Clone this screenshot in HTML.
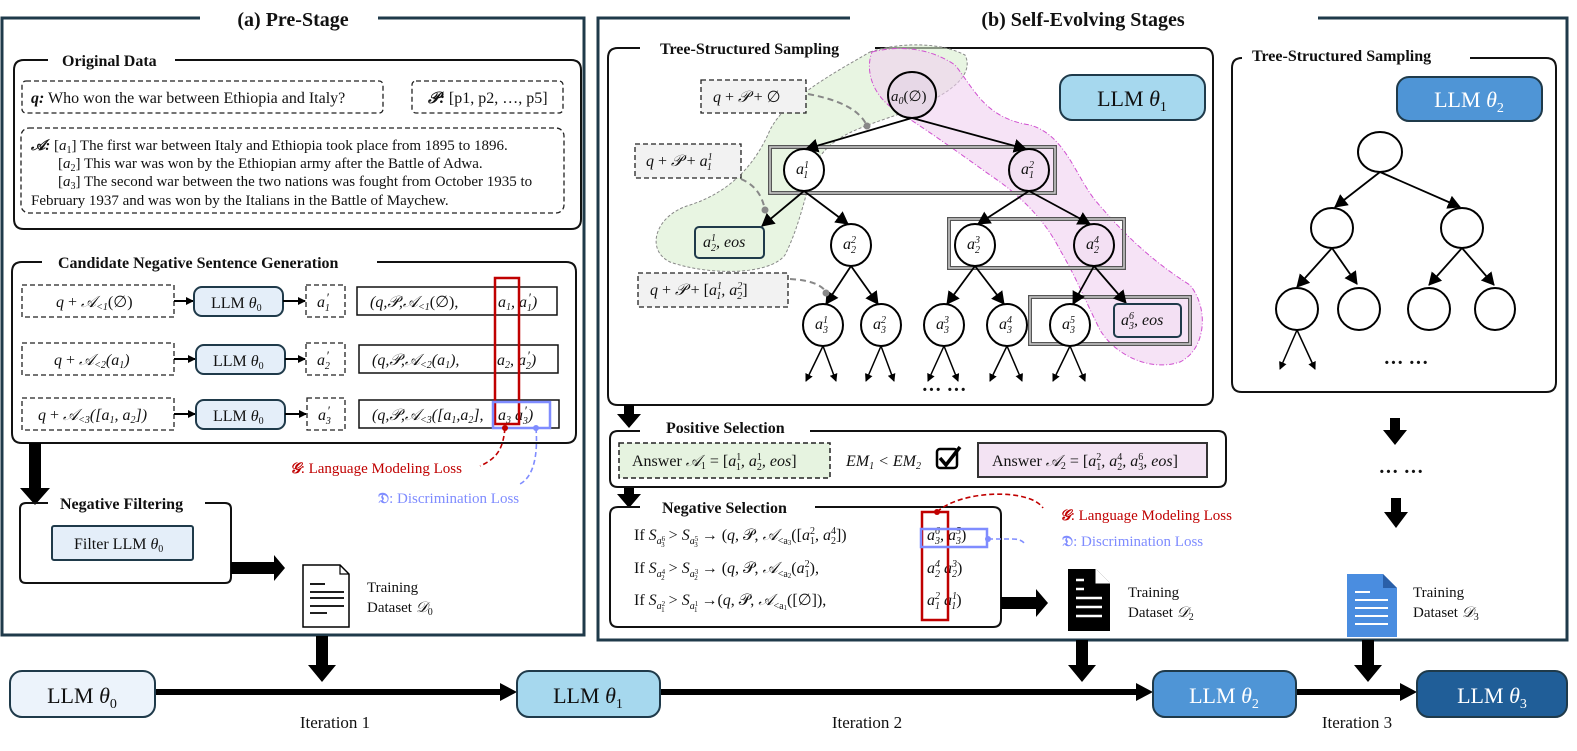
<!DOCTYPE html>
<html><head><meta charset="utf-8">
<style>
html,body{margin:0;padding:0;background:#fff;}
svg{display:block;}
text{font-family:"Liberation Serif",serif;fill:#111;}
.b{font-weight:bold;}
.i{font-style:italic;}
.s{font-size:10px;}
</style></head>
<body>
<svg width="1577" height="751" viewBox="0 0 1577 751" xmlns="http://www.w3.org/2000/svg">
<defs>
<marker id="ar" markerWidth="8" markerHeight="8" refX="7" refY="4" orient="auto" markerUnits="userSpaceOnUse">
<path d="M0,0 L8,4 L0,8 Z" fill="#000"/></marker>
<marker id="arl" markerWidth="14" markerHeight="14" refX="12" refY="7" orient="auto" markerUnits="userSpaceOnUse">
<path d="M0,0 L13,7 L0,14 Z" fill="#000"/></marker>
</defs>

<!-- (a) frame -->
<path d="M200,18 L2,18 L2,635 L584,635 L584,18 L378,18" fill="none" stroke="#1f3a4a" stroke-width="3"/>
<text x="293" y="26" font-size="20" class="b" text-anchor="middle">(a) Pre-Stage</text>

<!-- (b) frame -->
<path d="M850,18 L598,18 L598,640 L1567,640 L1567,18 L1318,18" fill="none" stroke="#1f3a4a" stroke-width="3"/>
<text x="1083" y="26" font-size="20" class="b" text-anchor="middle">(b) Self-Evolving Stages</text>

<!-- Original Data -->
<path d="M48,60 L24,60 Q14,60 14,70 L14,219 Q14,229 24,229 L571,229 Q581,229 581,219 L581,70 Q581,60 571,60 L175,60" fill="none" stroke="#111" stroke-width="2"/>
<text x="62" y="66" font-size="16" class="b">Original Data</text>
<rect x="22" y="81" width="361" height="32" rx="4" fill="none" stroke="#222" stroke-width="1.3" stroke-dasharray="5,3"/>
<text x="31" y="103" font-size="16"><tspan class="b i">q:</tspan> Who won the war between Ethiopia and Italy?</text>
<rect x="412" y="81" width="151" height="32" rx="4" fill="none" stroke="#222" stroke-width="1.3" stroke-dasharray="5,3"/>
<text x="428" y="103" font-size="16"><tspan class="b i">𝒫:</tspan> [p1, p2, …, p5]</text>
<rect x="21" y="128" width="543" height="85" rx="8" fill="none" stroke="#222" stroke-width="1.3" stroke-dasharray="5,3"/>
<text font-size="15">
<tspan x="31" y="150"><tspan class="b i">𝒜:</tspan> [<tspan class="i">a</tspan><tspan class="s" dy="3">1</tspan><tspan dy="-3">] The first war between Italy and Ethiopia took place from 1895 to 1896.</tspan></tspan>
<tspan x="58" y="168">[<tspan class="i">a</tspan><tspan class="s" dy="3">2</tspan><tspan dy="-3">] This war was won by the Ethiopian army after the Battle of Adwa.</tspan></tspan>
<tspan x="58" y="186">[<tspan class="i">a</tspan><tspan class="s" dy="3">3</tspan><tspan dy="-3">] The second war between the two nations was fought from October 1935 to</tspan></tspan>
<tspan x="31" y="205">February 1937 and was won by the Italians in the Battle of Maychew.</tspan>
</text>

<!-- Candidate Negative Sentence Generation -->
<path d="M42,262 L22,262 Q12,262 12,272 L12,433 Q12,443 22,443 L566,443 Q576,443 576,433 L576,272 Q576,262 566,262 L377,262" fill="none" stroke="#111" stroke-width="2"/>
<text x="58" y="268" font-size="16" class="b">Candidate Negative Sentence Generation</text>

<g font-size="16">
<rect x="22" y="285" width="152" height="32" fill="none" stroke="#222" stroke-width="1.3" stroke-dasharray="5,3"/>
<text x="56" y="307" class="i">q <tspan font-style="normal">+</tspan> 𝒜<tspan class="s" dy="3">&lt;1</tspan><tspan dy="-3" font-style="normal">(∅)</tspan></text>
<line x1="174" y1="301" x2="193" y2="301" stroke="#000" stroke-width="2" marker-end="url(#ar)"/>
<rect x="194" y="287" width="89" height="29" rx="8" fill="#e4eef9" stroke="#1f3a4a" stroke-width="2"/>
<text x="211" y="308">LLM <tspan class="i">θ</tspan><tspan class="s" dy="3">0</tspan></text>
<line x1="283" y1="301" x2="305" y2="301" stroke="#000" stroke-width="2" marker-end="url(#ar)"/>
<rect x="306" y="285" width="39" height="32" fill="none" stroke="#222" stroke-width="1.3" stroke-dasharray="5,3"/>
<text x="317" y="307" class="i">a<tspan font-size="13" dx="1" dy="-5">′</tspan><tspan class="s" dx="-4" dy="9">1</tspan></text>
<rect x="357" y="287" width="200" height="28" fill="none" stroke="#111" stroke-width="1.5"/>
<text x="370" y="307" class="i">(q,𝒫,𝒜<tspan class="s" dy="3">&lt;1</tspan><tspan dy="-3" font-style="normal">(∅),</tspan></text>
<text x="498" y="307" class="i">a<tspan class="s" dy="3">1</tspan><tspan dy="-3">, a</tspan><tspan font-size="13" dx="1" dy="-5">′</tspan><tspan class="s" dx="-4" dy="9">1</tspan><tspan dy="-4">)</tspan></text>

<rect x="22" y="343" width="152" height="32" fill="none" stroke="#222" stroke-width="1.3" stroke-dasharray="5,3"/>
<text x="54" y="365" class="i">q <tspan font-style="normal">+</tspan> 𝒜<tspan class="s" dy="3">&lt;2</tspan><tspan dy="-3">(a</tspan><tspan class="s" dy="3">1</tspan><tspan dy="-3">)</tspan></text>
<line x1="174" y1="359" x2="195" y2="359" stroke="#000" stroke-width="2" marker-end="url(#ar)"/>
<rect x="196" y="345" width="89" height="29" rx="8" fill="#e4eef9" stroke="#1f3a4a" stroke-width="2"/>
<text x="213" y="366">LLM <tspan class="i">θ</tspan><tspan class="s" dy="3">0</tspan></text>
<line x1="285" y1="359" x2="305" y2="359" stroke="#000" stroke-width="2" marker-end="url(#ar)"/>
<rect x="306" y="343" width="39" height="32" fill="none" stroke="#222" stroke-width="1.3" stroke-dasharray="5,3"/>
<text x="317" y="365" class="i">a<tspan font-size="13" dx="1" dy="-5">′</tspan><tspan class="s" dx="-4" dy="9">2</tspan></text>
<rect x="359" y="345" width="199" height="28" fill="none" stroke="#111" stroke-width="1.5"/>
<text x="372" y="365" class="i">(q,𝒫,𝒜<tspan class="s" dy="3">&lt;2</tspan><tspan dy="-3">(a</tspan><tspan class="s" dy="3">1</tspan><tspan dy="-3">),</tspan></text>
<text x="497" y="365" class="i">a<tspan class="s" dy="3">2</tspan><tspan dy="-3">, a</tspan><tspan font-size="13" dx="1" dy="-5">′</tspan><tspan class="s" dx="-4" dy="9">2</tspan><tspan dy="-4">)</tspan></text>

<rect x="22" y="398" width="152" height="32" fill="none" stroke="#222" stroke-width="1.3" stroke-dasharray="5,3"/>
<text x="38" y="420" class="i">q <tspan font-style="normal">+</tspan> 𝒜<tspan class="s" dy="3">&lt;3</tspan><tspan dy="-3">([a</tspan><tspan class="s" dy="3">1</tspan><tspan dy="-3">, a</tspan><tspan class="s" dy="3">2</tspan><tspan dy="-3">])</tspan></text>
<line x1="174" y1="414" x2="195" y2="414" stroke="#000" stroke-width="2" marker-end="url(#ar)"/>
<rect x="196" y="400" width="89" height="29" rx="8" fill="#e4eef9" stroke="#1f3a4a" stroke-width="2"/>
<text x="213" y="421">LLM <tspan class="i">θ</tspan><tspan class="s" dy="3">0</tspan></text>
<line x1="285" y1="414" x2="306" y2="414" stroke="#000" stroke-width="2" marker-end="url(#ar)"/>
<rect x="307" y="398" width="38" height="32" fill="none" stroke="#222" stroke-width="1.3" stroke-dasharray="5,3"/>
<text x="318" y="420" class="i">a<tspan font-size="13" dx="1" dy="-5">′</tspan><tspan class="s" dx="-4" dy="9">3</tspan></text>
<rect x="359" y="400" width="200" height="28" fill="none" stroke="#111" stroke-width="1.5"/>
<text x="372" y="420" class="i">(q,𝒫,𝒜<tspan class="s" dy="3">&lt;3</tspan><tspan dy="-3">([a</tspan><tspan class="s" dy="3">1</tspan><tspan dy="-3">,a</tspan><tspan class="s" dy="3">2</tspan><tspan dy="-3">],</tspan></text>
<text x="498" y="420" class="i">a<tspan class="s" dy="3">3</tspan><tspan dy="-3">  a</tspan><tspan font-size="13" dx="1" dy="-5">′</tspan><tspan class="s" dx="-4" dy="9">3</tspan><tspan dy="-4">)</tspan></text>
</g>
<rect x="495" y="278" width="24" height="146" fill="none" stroke="#c00000" stroke-width="2.5"/>
<rect x="493" y="402" width="57" height="26" fill="none" stroke="#7f8cff" stroke-width="2.5"/>
<circle cx="505" cy="428" r="3" fill="#c00000"/>
<circle cx="536" cy="428" r="3" fill="#7f8cff"/>
<path d="M505,428 C503,448 498,458 480,466" fill="none" stroke="#c00000" stroke-width="1.6" stroke-dasharray="5,3"/>
<path d="M536,428 C538,455 534,478 518,485" fill="none" stroke="#7f8cff" stroke-width="1.6" stroke-dasharray="5,3"/>
<text x="290" y="473" font-size="15" style="fill:#c00000"><tspan class="b i" style="fill:#c00000">𝒢</tspan>: Language Modeling Loss</text>
<text x="378" y="503" font-size="15" style="fill:#7f8cff"><tspan class="b" style="fill:#7f8cff">𝔇</tspan>: Discrimination Loss</text>

<polygon points="29,443 41,443 41,488 50,488 35,505 20,488 29,488" fill="#000"/>

<!-- Negative filtering -->
<path d="M48,503 L26,503 Q20,503 20,509 L20,577 Q20,583 26,583 L225,583 Q231,583 231,577 L231,509 Q231,503 225,503 L205,503" fill="none" stroke="#111" stroke-width="2"/>
<text x="60" y="509" font-size="16" class="b">Negative Filtering</text>
<rect x="52" y="526" width="141" height="34" rx="2" fill="#e4eef9" stroke="#1f3a4a" stroke-width="2"/>
<text x="74" y="549" font-size="16">Filter LLM <tspan class="i">θ</tspan><tspan class="s" dy="3">0</tspan></text>
<polygon points="231,562 274,562 274,555 285,568 274,581 274,574 231,574" fill="#000"/>
<path d="M303,565 L340,565 L349,574 L349,627 L303,627 Z" fill="#fff" stroke="#000" stroke-width="1.5"/>
<path d="M340,565 L340,574 L349,574" fill="none" stroke="#000" stroke-width="1.2"/>
<g stroke="#000" stroke-width="1.8"><line x1="310" y1="584" x2="325" y2="584"/><line x1="310" y1="592" x2="344" y2="592"/><line x1="310" y1="598" x2="344" y2="598"/><line x1="310" y1="606" x2="344" y2="606"/><line x1="310" y1="613" x2="327" y2="613"/></g>
<text x="367" y="592" font-size="15">Training</text>
<text x="367" y="612" font-size="15">Dataset <tspan class="i">𝒟</tspan><tspan class="s" dy="3">0</tspan></text>
<polygon points="316,636 328,636 328,665 336,665 322,682 308,665 316,665" fill="#000"/>

<!-- Tree-structured sampling 1 -->
<path d="M640,48 L618,48 Q608,48 608,58 L608,395 Q608,405 618,405 L1203,405 Q1213,405 1213,395 L1213,58 Q1213,48 1203,48 L875,48" fill="none" stroke="#111" stroke-width="2"/>
<text x="660" y="54" font-size="16" class="b">Tree-Structured Sampling</text>

<path d="M870,52 C900,42 940,42 965,55 C975,75 950,95 905,112 C860,128 830,135 815,165 C805,195 800,225 785,255 C770,275 710,276 670,262 C645,250 655,215 690,205 C730,192 755,165 770,130 C785,100 830,75 870,52 Z" fill="#d9efcf" fill-opacity="0.6" stroke="#888" stroke-width="1" stroke-dasharray="3,2"/>
<path d="M872,52 C900,45 930,48 955,65 C975,90 985,118 1030,125 C1065,135 1075,175 1095,200 C1120,230 1150,260 1190,285 C1210,310 1205,350 1180,362 C1150,372 1115,355 1100,330 C1085,300 1075,275 1060,250 C1045,220 1020,195 990,175 C955,150 920,125 895,110 C872,95 865,70 872,52 Z" fill="#f0d0f0" fill-opacity="0.6" stroke="#d050d0" stroke-width="1" stroke-dasharray="5,2,1,2"/>

<g fill="none" stroke="#555" stroke-width="4">
<rect x="770" y="147" width="285" height="46"/>
<rect x="949" y="219" width="175" height="49"/>
<rect x="1030" y="297" width="160" height="47"/>
</g>
<g fill="none" stroke="#ccc" stroke-width="1.5">
<rect x="770" y="147" width="285" height="46"/>
<rect x="949" y="219" width="175" height="49"/>
<rect x="1030" y="297" width="160" height="47"/>
</g>

<rect x="1060" y="75" width="145" height="45" rx="12" fill="#a6d8ee" stroke="#1f3a4a" stroke-width="2"/>
<text x="1132" y="106" font-size="22" text-anchor="middle">LLM <tspan class="i">θ</tspan><tspan font-size="14" dy="5">1</tspan></text>

<g stroke="#000" stroke-width="1.8" marker-end="url(#arl)">
<line x1="912" y1="118" x2="806" y2="149"/>
<line x1="912" y1="118" x2="1026" y2="149"/>
<line x1="804" y1="191" x2="762" y2="226"/>
<line x1="804" y1="191" x2="848" y2="224"/>
<line x1="1029" y1="191" x2="978" y2="224"/>
<line x1="1029" y1="191" x2="1090" y2="224"/>
<line x1="851" y1="266" x2="826" y2="304"/>
<line x1="851" y1="266" x2="878" y2="304"/>
<line x1="975" y1="266" x2="947" y2="304"/>
<line x1="975" y1="266" x2="1004" y2="304"/>
<line x1="1094" y1="266" x2="1073" y2="304"/>
<line x1="1094" y1="266" x2="1126" y2="303"/>
</g>
<g stroke="#000" stroke-width="1.5" marker-end="url(#ar)">
<line x1="823" y1="346" x2="806" y2="381"/><line x1="823" y1="346" x2="836" y2="381"/>
<line x1="881" y1="346" x2="866" y2="381"/><line x1="881" y1="346" x2="894" y2="381"/>
<line x1="944" y1="346" x2="928" y2="381"/><line x1="944" y1="346" x2="958" y2="381"/>
<line x1="1007" y1="346" x2="990" y2="381"/><line x1="1007" y1="346" x2="1022" y2="381"/>
<line x1="1070" y1="346" x2="1053" y2="381"/><line x1="1070" y1="346" x2="1085" y2="381"/>
</g>
<text x="944" y="396" font-size="20" text-anchor="middle" class="b">··· ···</text>

<g fill="#fff" stroke="#000" stroke-width="2">
<ellipse cx="912" cy="95" rx="24" ry="23" fill="#e7d8e7"/>
<ellipse cx="804" cy="170" rx="20" ry="21"/>
<ellipse cx="1029" cy="170" rx="20" ry="21" fill="#f3e0f3"/>
<ellipse cx="851" cy="245" rx="20" ry="21"/>
<ellipse cx="975" cy="245" rx="20" ry="21"/>
<ellipse cx="1094" cy="245" rx="20" ry="21" fill="#f3e0f3"/>
<ellipse cx="823" cy="325" rx="20" ry="21"/>
<ellipse cx="881" cy="325" rx="20" ry="21"/>
<ellipse cx="944" cy="325" rx="20" ry="21"/>
<ellipse cx="1007" cy="325" rx="20" ry="21"/>
<ellipse cx="1070" cy="325" rx="20" ry="21"/>
</g>
<rect x="695" y="227" width="69" height="31" rx="4" fill="#e6f3e0" stroke="#1f3a4a" stroke-width="2"/>
<rect x="1114" y="304" width="67" height="33" rx="4" fill="#f3e0f3" stroke="#1f3a4a" stroke-width="2"/>
<g font-size="16" class="i">
<text x="891" y="101" font-size="15">a<tspan class="s" dy="3">0</tspan><tspan dy="-3" font-style="normal">(∅)</tspan></text>
<text x="796" y="174">a<tspan class="s" dy="-6">1</tspan><tspan class="s" dx="-5" dy="10">1</tspan></text>
<text x="1021" y="174">a<tspan class="s" dy="-6">2</tspan><tspan class="s" dx="-5" dy="10">1</tspan></text>
<text x="843" y="249">a<tspan class="s" dy="-6">2</tspan><tspan class="s" dx="-5" dy="10">2</tspan></text>
<text x="967" y="249">a<tspan class="s" dy="-6">3</tspan><tspan class="s" dx="-5" dy="10">2</tspan></text>
<text x="1086" y="249">a<tspan class="s" dy="-6">4</tspan><tspan class="s" dx="-5" dy="10">2</tspan></text>
<text x="815" y="329">a<tspan class="s" dy="-6">1</tspan><tspan class="s" dx="-5" dy="10">3</tspan></text>
<text x="873" y="329">a<tspan class="s" dy="-6">2</tspan><tspan class="s" dx="-5" dy="10">3</tspan></text>
<text x="936" y="329">a<tspan class="s" dy="-6">3</tspan><tspan class="s" dx="-5" dy="10">3</tspan></text>
<text x="999" y="329">a<tspan class="s" dy="-6">4</tspan><tspan class="s" dx="-5" dy="10">3</tspan></text>
<text x="1062" y="329">a<tspan class="s" dy="-6">5</tspan><tspan class="s" dx="-5" dy="10">3</tspan></text>
<text x="703" y="247">a<tspan class="s" dy="-6">1</tspan><tspan class="s" dx="-5" dy="10">2</tspan><tspan dy="-4">, eos</tspan></text>
<text x="1121" y="325">a<tspan class="s" dy="-6">6</tspan><tspan class="s" dx="-5" dy="10">3</tspan><tspan dy="-4">, eos</tspan></text>
</g>

<rect x="701" y="80" width="105" height="33" fill="#f2f2f2" stroke="#222" stroke-width="1.3" stroke-dasharray="5,3"/>
<text x="713" y="102" font-size="16" class="i">q <tspan font-style="normal">+</tspan> 𝒫 <tspan font-style="normal">+ ∅</tspan></text>
<rect x="635" y="144" width="106" height="34" fill="#f2f2f2" stroke="#222" stroke-width="1.3" stroke-dasharray="5,3"/>
<text x="646" y="166" font-size="16" class="i">q <tspan font-style="normal">+</tspan> 𝒫 <tspan font-style="normal">+</tspan> a<tspan class="s" dy="-6">1</tspan><tspan class="s" dx="-5" dy="10">1</tspan></text>
<rect x="638" y="273" width="150" height="34" fill="#f2f2f2" stroke="#222" stroke-width="1.3" stroke-dasharray="5,3"/>
<text x="650" y="295" font-size="16" class="i">q <tspan font-style="normal">+</tspan> 𝒫 <tspan font-style="normal">+ [</tspan>a<tspan class="s" dy="-6">1</tspan><tspan class="s" dx="-5" dy="10">1</tspan><tspan dy="-4">, a</tspan><tspan class="s" dy="-6">2</tspan><tspan class="s" dx="-5" dy="10">2</tspan><tspan dy="-4" font-style="normal">]</tspan></text>
<g fill="none" stroke="#888" stroke-width="2" stroke-dasharray="6,4">
<path d="M808,94 C840,100 860,110 867,126"/>
<path d="M741,179 C755,185 762,195 765,210"/>
<path d="M790,279 C810,280 822,285 826,292"/>
</g>
<circle cx="867" cy="126" r="3.5" fill="#888"/><circle cx="765" cy="210" r="3.5" fill="#888"/><circle cx="826" cy="293" r="3.5" fill="#888"/>

<polygon points="624,405 634,405 634,414 641,414 629,428 617,414 624,414" fill="#000"/>
<polygon points="624,487 634,487 634,494 641,494 629,508 617,494 624,494" fill="#000"/>

<!-- Positive selection -->
<path d="M640,431 L618,431 Q610,431 610,439 L610,479 Q610,487 618,487 L1218,487 Q1226,487 1226,479 L1226,439 Q1226,431 1218,431 L810,431" fill="none" stroke="#111" stroke-width="2"/>
<text x="666" y="433" font-size="16" class="b">Positive Selection</text>
<rect x="619" y="443" width="211" height="35" fill="#e6f3e0" stroke="#222" stroke-width="1.5" stroke-dasharray="5,3"/>
<text x="632" y="466" font-size="16">Answer <tspan class="i">𝒜</tspan><tspan class="s" dy="3">1</tspan><tspan dy="-3"> = [</tspan><tspan class="i">a</tspan><tspan class="s" dy="-6">1</tspan><tspan class="s" dx="-5" dy="10">1</tspan><tspan dy="-4" class="i">, a</tspan><tspan class="s" dy="-6">1</tspan><tspan class="s" dx="-5" dy="10">2</tspan><tspan dy="-4" class="i">, eos</tspan>]</text>
<text x="846" y="466" font-size="16" class="i">EM<tspan class="s" dy="3">1</tspan><tspan dy="-3"> &lt; EM</tspan><tspan class="s" dy="3">2</tspan></text>
<rect x="937" y="449" width="20" height="19" rx="3" fill="#fff" stroke="#000" stroke-width="2.5"/>
<path d="M940,458 L946,465 L960,447" fill="none" stroke="#000" stroke-width="3.5"/>
<rect x="978" y="443" width="229" height="34" fill="#f3e3f3" stroke="#333" stroke-width="2"/>
<text x="992" y="466" font-size="16">Answer <tspan class="i">𝒜</tspan><tspan class="s" dy="3">2</tspan><tspan dy="-3"> = [</tspan><tspan class="i">a</tspan><tspan class="s" dy="-6">2</tspan><tspan class="s" dx="-5" dy="10">1</tspan><tspan dy="-4" class="i">, a</tspan><tspan class="s" dy="-6">4</tspan><tspan class="s" dx="-5" dy="10">2</tspan><tspan dy="-4" class="i">, a</tspan><tspan class="s" dy="-6">6</tspan><tspan class="s" dx="-5" dy="10">3</tspan><tspan dy="-4" class="i">, eos</tspan>]</text>

<!-- Negative selection -->
<path d="M640,507 L618,507 Q610,507 610,515 L610,619 Q610,627 618,627 L993,627 Q1001,627 1001,619 L1001,515 Q1001,507 993,507 L815,507" fill="none" stroke="#111" stroke-width="2"/>
<text x="662" y="513" font-size="16" class="b">Negative Selection</text>
<g font-size="16">
<text x="634" y="540">If <tspan class="i">S</tspan><tspan class="s i" dy="4">a</tspan><tspan font-size="7" dy="-3">6</tspan><tspan font-size="7" dx="-4" dy="6">3</tspan><tspan dy="-7"> &gt; </tspan><tspan class="i">S</tspan><tspan class="s i" dy="4">a</tspan><tspan font-size="7" dy="-3">5</tspan><tspan font-size="7" dx="-4" dy="6">3</tspan><tspan dy="-7"> → (</tspan><tspan class="i">q</tspan>, 𝒫, <tspan class="i">𝒜</tspan><tspan class="s" dy="4">&lt;a</tspan><tspan font-size="7" dy="1">3</tspan><tspan dy="-5">([</tspan><tspan class="i">a</tspan><tspan class="s" dy="-6">2</tspan><tspan class="s" dx="-5" dy="10">1</tspan><tspan dy="-4">, </tspan><tspan class="i">a</tspan><tspan class="s" dy="-6">4</tspan><tspan class="s" dx="-5" dy="10">2</tspan><tspan dy="-4">])</tspan></text>
<text x="927" y="540" class="i">a<tspan class="s" dy="-6">6</tspan><tspan class="s" dx="-5" dy="10">3</tspan><tspan dy="-4">, a</tspan><tspan class="s" dy="-6">5</tspan><tspan class="s" dx="-5" dy="10">3</tspan><tspan dy="-4" font-style="normal">)</tspan></text>
<text x="634" y="573">If <tspan class="i">S</tspan><tspan class="s i" dy="4">a</tspan><tspan font-size="7" dy="-3">4</tspan><tspan font-size="7" dx="-4" dy="6">2</tspan><tspan dy="-7"> &gt; </tspan><tspan class="i">S</tspan><tspan class="s i" dy="4">a</tspan><tspan font-size="7" dy="-3">3</tspan><tspan font-size="7" dx="-4" dy="6">2</tspan><tspan dy="-7"> → (</tspan><tspan class="i">q</tspan>, 𝒫, <tspan class="i">𝒜</tspan><tspan class="s" dy="4">&lt;a</tspan><tspan font-size="7" dy="1">2</tspan><tspan dy="-5">(</tspan><tspan class="i">a</tspan><tspan class="s" dy="-6">2</tspan><tspan class="s" dx="-5" dy="10">1</tspan><tspan dy="-4">),</tspan></text>
<text x="927" y="573" class="i">a<tspan class="s" dy="-6">4</tspan><tspan class="s" dx="-5" dy="10">2</tspan><tspan dy="-4">  a</tspan><tspan class="s" dy="-6">3</tspan><tspan class="s" dx="-5" dy="10">2</tspan><tspan dy="-4" font-style="normal">)</tspan></text>
<text x="634" y="605">If <tspan class="i">S</tspan><tspan class="s i" dy="4">a</tspan><tspan font-size="7" dy="-3">2</tspan><tspan font-size="7" dx="-4" dy="6">1</tspan><tspan dy="-7"> &gt; </tspan><tspan class="i">S</tspan><tspan class="s i" dy="4">a</tspan><tspan font-size="7" dy="-3">1</tspan><tspan font-size="7" dx="-4" dy="6">1</tspan><tspan dy="-7"> →(</tspan><tspan class="i">q</tspan>, 𝒫, <tspan class="i">𝒜</tspan><tspan class="s" dy="4">&lt;a</tspan><tspan font-size="7" dy="1">1</tspan><tspan dy="-5">([∅]),</tspan></text>
<text x="927" y="605" class="i">a<tspan class="s" dy="-6">2</tspan><tspan class="s" dx="-5" dy="10">1</tspan><tspan dy="-4">  a</tspan><tspan class="s" dy="-6">1</tspan><tspan class="s" dx="-5" dy="10">1</tspan><tspan dy="-4" font-style="normal">)</tspan></text>
</g>
<rect x="922" y="512" width="26" height="108" fill="none" stroke="#c00000" stroke-width="2.5"/>
<rect x="921" y="529" width="66" height="18" fill="none" stroke="#7f8cff" stroke-width="2.5"/>
<circle cx="937" cy="512" r="3" fill="#c00000"/>
<circle cx="988" cy="539" r="3" fill="#7f8cff"/>
<path d="M937,512 C960,490 1030,488 1043,508" fill="none" stroke="#c00000" stroke-width="1.6" stroke-dasharray="5,3"/>
<path d="M988,539 L1012,539 C1018,539 1022,540 1025,544" fill="none" stroke="#7f8cff" stroke-width="1.6" stroke-dasharray="5,3"/>
<text x="1060" y="520" font-size="15" style="fill:#c00000"><tspan class="b i" style="fill:#c00000">𝒢</tspan>: Language Modeling Loss</text>
<text x="1062" y="546" font-size="15" style="fill:#7f8cff"><tspan class="b" style="fill:#7f8cff">𝔇</tspan>: Discrimination Loss</text>

<polygon points="1001,597 1036,597 1036,589 1048,603 1036,617 1036,609 1001,609" fill="#000"/>
<path d="M1068,569 L1096,569 L1110,583 L1110,631 L1068,631 Z" fill="#000"/>
<path d="M1096,569 L1096,583 L1110,583" fill="#fff" stroke="#fff" stroke-width="1"/>
<g stroke="#fff" stroke-width="2.5"><line x1="1076" y1="580" x2="1084" y2="580"/><line x1="1076" y1="589" x2="1084" y2="589"/><line x1="1076" y1="598" x2="1102" y2="598"/><line x1="1076" y1="607" x2="1102" y2="607"/><line x1="1076" y1="616" x2="1102" y2="616"/></g>
<text x="1128" y="597" font-size="15">Training</text>
<text x="1128" y="617" font-size="15">Dataset <tspan class="i">𝒟</tspan><tspan class="s" dy="3">2</tspan></text>
<polygon points="1076,640 1088,640 1088,665 1096,665 1082,682 1068,665 1076,665" fill="#000"/>

<!-- Tree-structured sampling 2 -->
<path d="M1242,58 Q1232,58 1232,68 L1232,382 Q1232,392 1242,392 L1546,392 Q1556,392 1556,382 L1556,68 Q1556,58 1546,58 L1470,58" fill="none" stroke="#111" stroke-width="2"/>
<text x="1252" y="61" font-size="16" class="b">Tree-Structured Sampling</text>
<rect x="1397" y="77" width="145" height="44" rx="12" fill="#4f95d6" stroke="#1f3a4a" stroke-width="2"/>
<text x="1469" y="107" font-size="22" text-anchor="middle" style="fill:#fff">LLM <tspan class="i" style="fill:#fff">θ</tspan><tspan font-size="14" dy="5" style="fill:#fff">2</tspan></text>
<g stroke="#000" stroke-width="1.8" marker-end="url(#arl)">
<line x1="1380" y1="172" x2="1335" y2="207"/>
<line x1="1380" y1="172" x2="1460" y2="207"/>
<line x1="1332" y1="248" x2="1297" y2="287"/>
<line x1="1332" y1="248" x2="1357" y2="284"/>
<line x1="1462" y1="248" x2="1429" y2="285"/>
<line x1="1462" y1="248" x2="1494" y2="285"/>
</g>
<g stroke="#000" stroke-width="1.5" marker-end="url(#ar)">
<line x1="1297" y1="330" x2="1280" y2="369"/><line x1="1297" y1="330" x2="1315" y2="369"/>
</g>
<g fill="#fff" stroke="#000" stroke-width="2">
<ellipse cx="1380" cy="152" rx="22" ry="20"/>
<ellipse cx="1332" cy="228" rx="21" ry="20"/>
<ellipse cx="1462" cy="228" rx="21" ry="20"/>
<ellipse cx="1297" cy="309" rx="21" ry="21"/>
<ellipse cx="1359" cy="309" rx="21" ry="21"/>
<ellipse cx="1429" cy="309" rx="21" ry="21"/>
<ellipse cx="1495" cy="309" rx="20" ry="21"/>
</g>
<text x="1406" y="369" font-size="20" text-anchor="middle" class="b">··· ···</text>
<polygon points="1390,418 1400,418 1400,430 1407,430 1395,445 1383,430 1390,430" fill="#000"/>
<text x="1401" y="478" font-size="20" text-anchor="middle" class="b">··· ···</text>
<polygon points="1391,498 1401,498 1401,512 1408,512 1396,528 1384,512 1391,512" fill="#000"/>
<path d="M1347,574 L1383,574 L1397,588 L1397,637 L1347,637 Z" fill="#4a8de0"/>
<path d="M1383,574 L1383,588 L1397,588 Z" fill="#2a5fa8"/>
<g stroke="#fff" stroke-width="2"><line x1="1355" y1="592" x2="1370" y2="592"/><line x1="1355" y1="600" x2="1388" y2="600"/><line x1="1355" y1="608" x2="1388" y2="608"/><line x1="1355" y1="616" x2="1388" y2="616"/><line x1="1355" y1="624" x2="1388" y2="624"/></g>
<text x="1413" y="597" font-size="15">Training</text>
<text x="1413" y="617" font-size="15">Dataset <tspan class="i">𝒟</tspan><tspan class="s" dy="3">3</tspan></text>
<polygon points="1362,640 1374,640 1374,665 1382,665 1368,682 1354,665 1362,665" fill="#000"/>

<!-- bottom bar -->
<g stroke="#000" stroke-width="6">
<line x1="155" y1="692" x2="504" y2="692"/>
<line x1="660" y1="692" x2="1140" y2="692"/>
<line x1="1296" y1="692" x2="1404" y2="692"/>
</g>
<polygon points="500,683 517,692 500,701" fill="#000"/>
<polygon points="1136,683 1153,692 1136,701" fill="#000"/>
<polygon points="1400,683 1417,692 1400,701" fill="#000"/>
<rect x="10" y="671" width="145" height="46" rx="12" fill="#ecf3fb" stroke="#1f3a4a" stroke-width="2"/>
<text x="82" y="703" font-size="22" text-anchor="middle">LLM <tspan class="i">θ</tspan><tspan font-size="14" dy="5">0</tspan></text>
<rect x="517" y="671" width="143" height="46" rx="12" fill="#a6d8ee" stroke="#1f3a4a" stroke-width="2"/>
<text x="588" y="703" font-size="22" text-anchor="middle">LLM <tspan class="i">θ</tspan><tspan font-size="14" dy="5">1</tspan></text>
<rect x="1153" y="671" width="143" height="46" rx="12" fill="#4f95d6" stroke="#1f3a4a" stroke-width="2"/>
<text x="1224" y="703" font-size="22" text-anchor="middle" style="fill:#fff">LLM <tspan class="i" style="fill:#fff">θ</tspan><tspan font-size="14" dy="5" style="fill:#fff">2</tspan></text>
<rect x="1417" y="671" width="150" height="46" rx="12" fill="#205e98" stroke="#1f3a4a" stroke-width="2"/>
<text x="1492" y="703" font-size="22" text-anchor="middle" style="fill:#fff">LLM <tspan class="i" style="fill:#fff">θ</tspan><tspan font-size="14" dy="5" style="fill:#fff">3</tspan></text>
<text x="335" y="728" font-size="17" text-anchor="middle">Iteration 1</text>
<text x="867" y="728" font-size="17" text-anchor="middle">Iteration 2</text>
<text x="1357" y="728" font-size="17" text-anchor="middle">Iteration 3</text>
</svg>
</body></html>
